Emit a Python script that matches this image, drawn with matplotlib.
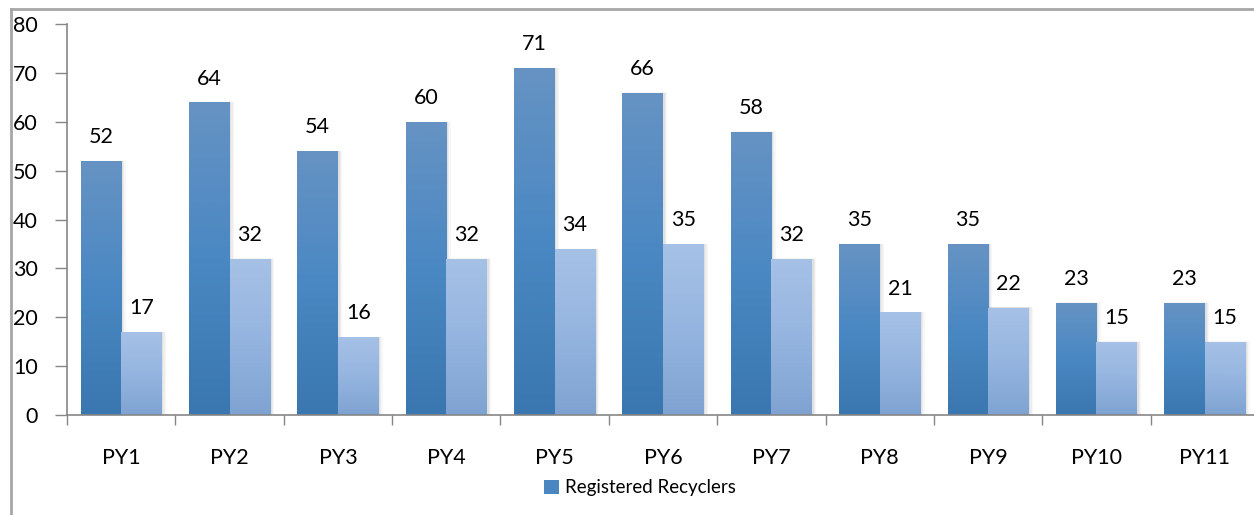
import numpy as np
import matplotlib
matplotlib.use("Agg")
import matplotlib.pyplot as plt
from matplotlib.colors import LinearSegmentedColormap
from matplotlib.lines import Line2D
from matplotlib.patches import Patch

categories = ["PY1", "PY2", "PY3", "PY4", "PY5", "PY6", "PY7", "PY8", "PY9", "PY10", "PY11"]
registered_recyclers = [52, 64, 54, 60, 71, 66, 58, 35, 35, 23, 23]
second_series = [17, 32, 16, 32, 34, 35, 32, 21, 22, 15, 15]
y_ticks = [0, 10, 20, 30, 40, 50, 60, 70, 80]

plt.rcParams['font.family'] = ['Lato', 'DejaVu Sans']

W, H = 1254, 515
fig = plt.figure(figsize=(W / 100, H / 100), dpi=100)
ax = fig.add_axes([67 / W, 1 - 415 / H, 1192 / W, (415 - 24.3) / H])

x = np.arange(len(categories))
bw = 0.374
b1 = ax.bar(x - bw / 2, registered_recyclers, bw, color='none', zorder=3)
b2 = ax.bar(x + bw / 2, second_series, bw, color='none', zorder=3)

cm1 = LinearSegmentedColormap.from_list('c1', ['#3a77b0', '#4a88c3', '#6693c3'])
cm2 = LinearSegmentedColormap.from_list('c2', ['#7fa3d1', '#95b5e0', '#a6c1e6'])
grad = np.linspace(0, 1, 256).reshape(-1, 1)

def fill(bars, cmap):
    for p in bars:
        x0, w, h = p.get_x(), p.get_width(), p.get_height()
        # soft shadow, mostly to the right
        for k, a in [(0.05, 0.03), (0.035, 0.04), (0.02, 0.05)]:
            ax.add_patch(plt.Rectangle((x0 + k * 0.3, 0), w + k * 0.5, h + k * 1.0,
                                       color='black', alpha=a, lw=0, zorder=1))
        im = ax.imshow(grad, extent=[x0, x0 + w, 0, h], origin='lower', cmap=cmap,
                       aspect='auto', zorder=2, interpolation='bilinear')
        im.set_clip_path(p)

fill(b1, cm1)
fill(b2, cm2)

for bars, vals in [(b1, registered_recyclers), (b2, second_series)]:
    for p, v in zip(bars, vals):
        ax.annotate(str(v), (p.get_x() + p.get_width() / 2, v), xytext=(0, 10),
                    textcoords='offset points', ha='center', va='bottom', fontsize=15.5,
                    color='black', zorder=5)

ax.set_xlim(-0.5, len(categories) - 0.5)
ax.set_ylim(0, 80)
ax.set_yticks(y_ticks)
ax.set_yticklabels([str(t) for t in y_ticks], fontsize=15.5)
ax.set_xticks(x)
ax.set_xticklabels(categories, fontsize=15.5)
ax.set_xticks(np.arange(len(categories) + 1) - 0.5, minor=True)
ax.tick_params(axis='x', which='major', length=0, pad=24)
ax.tick_params(axis='x', which='minor', length=7, color='#868686', width=1)
ax.tick_params(axis='y', length=9, color='#868686', width=1, pad=12)

for s in ['top', 'right']:
    ax.spines[s].set_visible(False)
for s in ['left', 'bottom']:
    ax.spines[s].set_color('#868686')
    ax.spines[s].set_linewidth(1.2)

leg = fig.legend(handles=[Patch(facecolor='#4a86c0', edgecolor='none', label='Registered Recyclers')],
                 loc='center', bbox_to_anchor=(640 / W, 1 - 488 / H), frameon=False,
                 fontsize=13.5, handlelength=0.8, handleheight=0.8, handletextpad=0.3)

fig.add_artist(Line2D([11 / W, 11 / W], [0, 1 - 9 / H], transform=fig.transFigure,
                      color='#a6a6a6', lw=2))
fig.add_artist(Line2D([11 / W, 1], [1 - 9 / H, 1 - 9 / H], transform=fig.transFigure,
                      color='#a6a6a6', lw=2))

fig.savefig('out.png', dpi=100)
